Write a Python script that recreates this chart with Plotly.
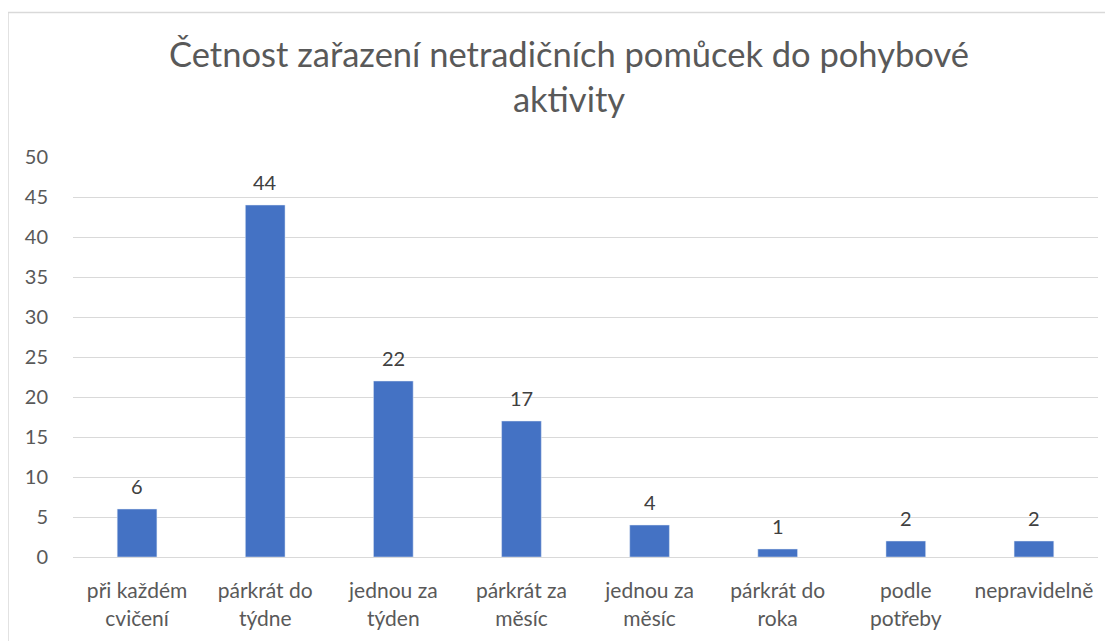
import plotly.graph_objects as go

categories = ["při každém<br>cvičení", "párkrát do<br>týdne", "jednou za<br>týden", "párkrát za<br>měsíc",
              "jednou za<br>měsíc", "párkrát do<br>roka", "podle<br>potřeby", "nepravidelně"]
values = [6, 44, 22, 17, 4, 1, 2, 2]
title_text = "Četnost zařazení netradičních pomůcek do pohybové<br>aktivity"

FONT = "Lato"
W, H = 1105, 633
L, R, T, B = 65, 15, 149, 84
pw, ph = W - L - R, H - T - B

fig = go.Figure(go.Bar(
    x=categories, y=values, marker_color="#4472C4", width=0.31,
    cliponaxis=False, hoverinfo="x+y",
))

for c, v in zip(categories, values):
    fig.add_annotation(x=c, y=v, text=str(v), showarrow=False, yanchor="bottom", yshift=9,
                       font=dict(size=20, color="#404040", family=FONT))

fig.update_layout(
    width=W, height=H, margin=dict(l=L, r=R, t=T, b=B),
    paper_bgcolor="white", plot_bgcolor="white",
    font=dict(family=FONT, color="#595959", size=21),
    title=dict(text=title_text, x=561 / W, xanchor="center", y=1 - 59 / H, yanchor="bottom",
               font=dict(size=34.5, color="#595959", family=FONT)),
    showlegend=False,
    xaxis=dict(showgrid=False, tickfont=dict(size=21, color="#595959"), ticks="outside",
               ticklen=15, tickcolor="rgba(0,0,0,0)", showline=False),
    yaxis=dict(range=[0, 50], dtick=5, gridcolor="#D9D9D9", gridwidth=1, zeroline=True,
               zerolinecolor="#D9D9D9", zerolinewidth=1, tickfont=dict(size=20, color="#595959"),
               ticks="outside", ticklen=20, tickcolor="rgba(0,0,0,0)", showline=False),
    shapes=[dict(type="rect", xref="paper", yref="paper",
                 x0=(0 - L) / pw, x1=(1104 - L) / pw, y0=(H - 640 - B) / ph, y1=(H - 4.5 - B) / ph,
                 line=dict(color="#D9D9D9", width=1.5), fillcolor="rgba(0,0,0,0)", layer="below")],
)

fig.write_html("out.html")
